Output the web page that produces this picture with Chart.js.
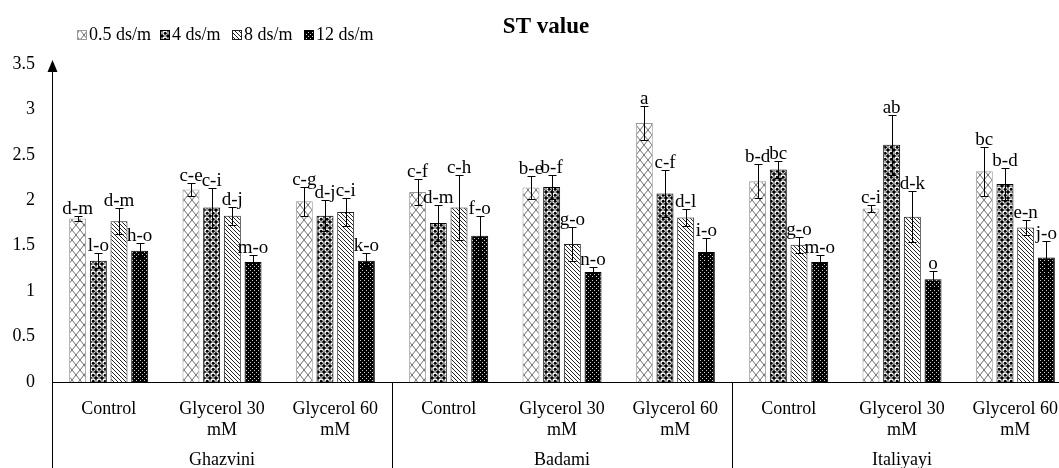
<!DOCTYPE html>
<html>
<head>
<meta charset="utf-8">
<script src="https://cdn.jsdelivr.net/npm/chart.js@4.4.1/dist/chart.umd.min.js"></script>
<style>
html,body{margin:0;padding:0;background:#fff;overflow:hidden;font-family:"Liberation Serif",serif;}
#wrap{width:1080px;height:468px;position:relative;}
</style>
</head>
<body>
<div id="wrap"><canvas id="c" width="1080" height="468"></canvas></div>
<script>
// ---------- data ----------
const chartTitle = 'ST value';
const categories = [
  ['Control'], ['Glycerol 30', 'mM'], ['Glycerol 60', 'mM'],
  ['Control'], ['Glycerol 30', 'mM'], ['Glycerol 60', 'mM'],
  ['Control'], ['Glycerol 30', 'mM'], ['Glycerol 60', 'mM']
];
const groups = ['Ghazvini', 'Badami', 'Italiyayi'];
const seriesNames = ['0.5 ds/m', '4 ds/m', '8 ds/m', '12 ds/m'];

const values05 = [1.80, 2.12, 1.99, 2.09, 2.14, 2.85, 2.21, 1.91, 2.32];
const values4  = [1.335, 1.92, 1.83, 1.75, 2.145, 2.075, 2.34, 2.61, 2.18];
const values8  = [1.77, 1.83, 1.87, 1.92, 1.52, 1.81, 1.51, 1.82, 1.70];
const values12 = [1.445, 1.32, 1.335, 1.61, 1.21, 1.43, 1.32, 1.13, 1.37];

const errors05 = [0.03, 0.07, 0.16, 0.14, 0.13, 0.185, 0.19, 0.04, 0.27];
const errors4  = [0.08, 0.22, 0.17, 0.20, 0.135, 0.26, 0.09, 0.33, 0.18];
const errors8  = [0.14, 0.10, 0.15, 0.36, 0.19, 0.09, 0.09, 0.28, 0.08];
const errors12 = [0.08, 0.08, 0.085, 0.22, 0.06, 0.15, 0.08, 0.09, 0.18];

const letters05 = ['d-m', 'c-e', 'c-g', 'c-f', 'b-e', 'a', 'b-d', 'c-i', 'bc'];
const letters4  = ['l-o', 'c-i', 'd-j', 'd-m', 'b-f', 'c-f', 'bc', 'ab', 'b-d'];
const letters8  = ['d-m', 'd-j', 'c-i', 'c-h', 'g-o', 'd-l', 'g-o', 'd-k', 'e-n'];
const letters12 = ['h-o', 'm-o', 'k-o', 'f-o', 'n-o', 'i-o', 'm-o', 'o', 'j-o'];

const yTickLabels = ['0', '0.5', '1', '1.5', '2', '2.5', '3', '3.5'];
const yMin = 0, yMax = 3.5, yStep = 0.5;

// ---------- styling ----------
const FONT = "'Liberation Serif', 'Times New Roman', serif";
Chart.defaults.font.family = FONT;
Chart.defaults.color = '#000';
const seriesValues = [values05, values4, values8, values12];
const seriesErrors = [errors05, errors4, errors8, errors12];
const seriesLetters = [letters05, letters4, letters8, letters12];

function tile(w, h, draw) {
  const c = document.createElement('canvas');
  c.width = w; c.height = h;
  const g = c.getContext('2d');
  draw(g, w, h);
  return c;
}
const ctx0 = document.getElementById('c').getContext('2d');
const patternTiles = [
  tile(8, 10, (g, w, h) => {           // trellis / zigzag, gray
    g.fillStyle = '#fff'; g.fillRect(0, 0, w, h);
    g.strokeStyle = '#6e6e6e'; g.lineWidth = 1;
    g.beginPath();
    g.moveTo(0, 0); g.lineTo(w, h);
    g.moveTo(w, 0); g.lineTo(0, h);
    g.stroke();
  }),
  tile(6, 6, (g, w, h) => {            // black with white rings
    g.fillStyle = '#000'; g.fillRect(0, 0, w, h);
    g.fillStyle = '#fff';
    g.beginPath(); g.arc(3, 3, 2.7, 0, Math.PI * 2); g.fill();
    g.fillStyle = '#000';
    g.beginPath(); g.arc(3.2, 3.2, 1.5, 0, Math.PI * 2); g.fill();
  }),
  tile(4, 4, (g, w, h) => {            // diagonal lines
    g.fillStyle = '#fff'; g.fillRect(0, 0, w, h);
    g.strokeStyle = '#222'; g.lineWidth = 1;
    g.beginPath();
    g.moveTo(-1, -1); g.lineTo(5, 5);
    g.moveTo(-1, 3); g.lineTo(1, 5);
    g.moveTo(3, -1); g.lineTo(5, 1);
    g.stroke();
  }),
  tile(4, 4, (g, w, h) => {            // black with small white dots
    g.fillStyle = '#000'; g.fillRect(0, 0, w, h);
    g.fillStyle = '#cfcfcf';
    g.fillRect(0, 0, 1, 1); g.fillRect(2, 2, 1, 1);
  })
];
const patterns = patternTiles.map(t => ctx0.createPattern(t, 'repeat'));
const borderColors = ['#9a9a9a', '#000', '#222', '#000'];

const datasets = seriesValues.map((vals, i) => ({
  label: seriesNames[i],
  data: vals,
  errors: seriesErrors[i],
  letters: seriesLetters[i],
  backgroundColor: patterns[i],
  borderColor: borderColors[i],
  borderWidth: 1,
  categoryPercentage: 0.73,
  barPercentage: 0.82,
  xAxisID: 'x',
  yAxisID: 'y'
}));

// ---------- plugins ----------
const decorations = {
  id: 'decorations',
  afterDatasetsDraw(chart) {
    const { ctx } = chart;
    const y = chart.scales.y;
    ctx.save();
    chart.data.datasets.forEach((ds, di) => {
      const meta = chart.getDatasetMeta(di);
      meta.data.forEach((bar, i) => {
        const v = ds.data[i], e = ds.errors[i];
        const yt = Math.round(y.getPixelForValue(v + e)) + 0.5;
        const yb = Math.round(y.getPixelForValue(v - e)) + 0.5;
        const x = Math.round(bar.x) + 0.5;
        ctx.strokeStyle = '#000'; ctx.lineWidth = 1;
        ctx.beginPath();
        ctx.moveTo(x, yt); ctx.lineTo(x, yb);
        ctx.moveTo(x - 4, yt); ctx.lineTo(x + 4, yt);
        ctx.moveTo(x - 4, yb); ctx.lineTo(x + 4, yb);
        ctx.stroke();
        ctx.fillStyle = '#000';
        ctx.font = '19px ' + FONT;
        ctx.textAlign = 'center';
        ctx.textBaseline = 'alphabetic';
        ctx.fillText(ds.letters[i], bar.x, yt - 3);
      });
    });
    ctx.restore();
  },
  afterDraw(chart) {
    const { ctx, chartArea } = chart;
    const x = chart.scales.x;
    ctx.save();
    // group dividers
    ctx.strokeStyle = '#000'; ctx.lineWidth = 1;
    const half = (x.getPixelForValue(1) - x.getPixelForValue(0)) / 2;
    for (let g = 0; g < groups.length; g++) {
      const px = Math.round(x.getPixelForValue(g * 3) - half) + 0.5;
      ctx.beginPath();
      ctx.moveTo(px, chartArea.bottom);
      ctx.lineTo(px, chart.height);
      ctx.stroke();
    }
    // y axis arrow
    const ax = Math.round(chartArea.left) + 0.5;
    ctx.fillStyle = '#000';
    ctx.beginPath();
    ctx.moveTo(ax, chartArea.top - 4);
    ctx.lineTo(ax - 5, chartArea.top + 8);
    ctx.lineTo(ax + 5, chartArea.top + 8);
    ctx.closePath();
    ctx.fill();
    // title
    ctx.font = 'bold 23px ' + FONT;
    ctx.textAlign = 'center';
    ctx.textBaseline = 'middle';
    ctx.fillText(chartTitle, 546, 27);
    // legend
    const legendX = [77, 160, 232, 304];
    ctx.font = '18px ' + FONT;
    ctx.textAlign = 'left';
    chart.data.datasets.forEach((ds, i) => {
      const bx = legendX[i] + 0.5, by = 30.5;
      ctx.fillStyle = ds.backgroundColor;
      ctx.fillRect(bx, by, 9, 9);
      ctx.strokeStyle = ds.borderColor;
      ctx.strokeRect(bx, by, 9, 9);
      ctx.fillStyle = '#000';
      ctx.fillText(ds.label, legendX[i] + 12, 35.5);
    });
    ctx.restore();
  }
};

new Chart(document.getElementById('c'), {
  type: 'bar',
  data: { labels: categories, datasets },
  options: {
    responsive: false,
    animation: false,
    devicePixelRatio: 1,
    layout: { padding: { top: 64, right: 8, left: 0, bottom: 0 } },
    plugins: { legend: { display: false }, title: { display: false }, tooltip: { enabled: false } },
    scales: {
      x: {
        type: 'category', position: 'bottom', offset: true,
        grid: { display: false, drawTicks: false },
        border: { display: true, color: '#000', width: 1 },
        ticks: { font: { family: FONT, size: 18 }, color: '#000', padding: 16, maxRotation: 0, autoSkip: false },
        afterFit(s) { s.height = 64; }
      },
      x2: {
        type: 'category', labels: groups, position: 'bottom', offset: true, weight: 1,
        grid: { display: false, drawTicks: false },
        border: { display: false },
        ticks: { font: { family: FONT, size: 18 }, color: '#000', padding: 3, maxRotation: 0, autoSkip: false },
        afterFit(s) { s.height = 22; }
      },
      y: {
        min: yMin, max: yMax,
        grid: { display: false, drawTicks: false },
        border: { display: true, color: '#000', width: 1 },
        ticks: {
          stepSize: yStep, font: { family: FONT, size: 18 }, color: '#000', padding: 17,
          callback: (v, i) => yTickLabels[i]
        },
        afterFit(s) { s.width = 52; }
      }
    }
  },
  plugins: [decorations]
});
</script>
</body>
</html>
